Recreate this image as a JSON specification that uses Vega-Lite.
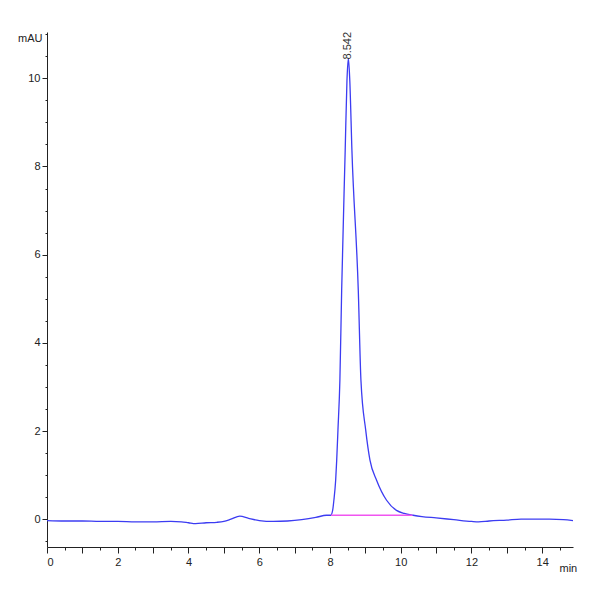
{
  "$schema": "https://vega.github.io/schema/vega-lite/v6.json",
  "width": 526,
  "height": 515,
  "autosize": {"type": "none"},
  "padding": {"left": 47, "top": 32, "right": 27, "bottom": 53},
  "background": "white",
  "config": {
    "view": {"stroke": null},
    "font": "Liberation Sans",
    "axis": {"labelFont": "Liberation Sans", "titleFont": "Liberation Sans", "grid": false, "labelColor": "#222", "titleColor": "#222", "domainColor": "#222", "tickColor": "#222", "labelOverlap": false}
  },
  "datasets": {
    "trace": [
      {"t": 0.0, "mAU": -0.03}, {"t": 0.5, "mAU": -0.04}, {"t": 1.0, "mAU": -0.04},
      {"t": 1.5, "mAU": -0.05}, {"t": 2.0, "mAU": -0.05}, {"t": 2.5, "mAU": -0.06},
      {"t": 3.0, "mAU": -0.06}, {"t": 3.5, "mAU": -0.05}, {"t": 3.8, "mAU": -0.06},
      {"t": 4.0, "mAU": -0.08}, {"t": 4.2, "mAU": -0.1}, {"t": 4.5, "mAU": -0.08},
      {"t": 4.8, "mAU": -0.07}, {"t": 5.0, "mAU": -0.05}, {"t": 5.2, "mAU": 0.0},
      {"t": 5.45, "mAU": 0.07}, {"t": 5.7, "mAU": 0.02}, {"t": 6.0, "mAU": -0.03},
      {"t": 6.4, "mAU": -0.05}, {"t": 6.8, "mAU": -0.04}, {"t": 7.2, "mAU": -0.01},
      {"t": 7.6, "mAU": 0.04}, {"t": 7.9, "mAU": 0.09}, {"t": 8.02, "mAU": 0.09},
      {"t": 8.075, "mAU": 0.2}, {"t": 8.11, "mAU": 0.43}, {"t": 8.16, "mAU": 0.88},
      {"t": 8.19, "mAU": 1.34}, {"t": 8.225, "mAU": 2.02}, {"t": 8.28, "mAU": 3.15},
      {"t": 8.33, "mAU": 5.19}, {"t": 8.43, "mAU": 8.37}, {"t": 8.48, "mAU": 9.95},
      {"t": 8.52, "mAU": 10.45}, {"t": 8.56, "mAU": 9.95}, {"t": 8.62, "mAU": 8.37},
      {"t": 8.8, "mAU": 5.19}, {"t": 8.875, "mAU": 3.15}, {"t": 9.01, "mAU": 2.02},
      {"t": 9.13, "mAU": 1.34}, {"t": 9.32, "mAU": 0.88}, {"t": 9.6, "mAU": 0.43},
      {"t": 9.88, "mAU": 0.2}, {"t": 10.1, "mAU": 0.13}, {"t": 10.35, "mAU": 0.09},
      {"t": 10.6, "mAU": 0.06}, {"t": 11.0, "mAU": 0.03}, {"t": 11.5, "mAU": -0.01},
      {"t": 12.0, "mAU": -0.05}, {"t": 12.2, "mAU": -0.06}, {"t": 12.5, "mAU": -0.04},
      {"t": 13.0, "mAU": -0.02}, {"t": 13.4, "mAU": 0.0}, {"t": 13.8, "mAU": 0.0},
      {"t": 14.2, "mAU": 0.0}, {"t": 14.6, "mAU": -0.01}, {"t": 14.87, "mAU": -0.03}
    ],
    "baseline": [
      {"t": 8.03, "mAU": 0.09}, {"t": 10.33, "mAU": 0.09}
    ],
    "peak": [
      {"t": 8.52, "mAU": 10.45, "label": "8.542"}
    ]
  },
  "layer": [
    {
      "data": {"name": "trace"},
      "mark": {"type": "line", "color": "#3c3cf2", "strokeWidth": 1.3, "interpolate": "monotone"},
      "encoding": {
        "x": {
          "field": "t", "type": "quantitative",
          "scale": {"domain": [0, 14.87], "nice": false, "zero": false},
          "axis": {
            "orient": "bottom", "tickCount": 200,
            "values": [0, 0.5, 1, 1.5, 2, 2.5, 3, 3.5, 4, 4.5, 5, 5.5, 6, 6.5, 7, 7.5, 8, 8.5, 9, 9.5, 10, 10.5, 11, 11.5, 12, 12.5, 13, 13.5, 14, 14.5],
            "labelExpr": "datum.value % 2 === 0 ? format(datum.value, 'd') : ''",
            "tickSize": {"condition": {"test": "datum.value % 1 === 0", "value": 6}, "value": 3},
            "labelFontSize": 11, "labelPadding": 3, "title": "min", "titleFontSize": 11,
            "titleFontWeight": "normal", "titleAnchor": "start", "titleAlign": "left",
            "titleX": 512, "titleY": 21, "titleBaseline": "middle"
          }
        },
        "y": {
          "field": "mAU", "type": "quantitative",
          "scale": {"domain": [-0.63, 11.05], "nice": false, "zero": false},
          "axis": {
            "orient": "left", "tickCount": 200,
            "values": [-0.5, 0, 0.5, 1, 1.5, 2, 2.5, 3, 3.5, 4, 4.5, 5, 5.5, 6, 6.5, 7, 7.5, 8, 8.5, 9, 9.5, 10, 10.5, 11],
            "labelExpr": "datum.value % 2 === 0 ? format(datum.value, 'd') : ''",
            "tickSize": {"condition": {"test": "datum.value % 2 === 0", "value": 5}, "value": 2},
            "labelFontSize": 11, "labelPadding": 2, "title": "mAU", "titleFontSize": 11,
            "titleFontWeight": "normal", "titleAngle": 0, "titleAlign": "right",
            "titleX": -5, "titleY": 6, "titleBaseline": "middle"
          }
        }
      }
    },
    {
      "data": {"name": "baseline"},
      "mark": {"type": "line", "color": "#f055f0", "strokeWidth": 1.6},
      "encoding": {
        "x": {"field": "t", "type": "quantitative"},
        "y": {"field": "mAU", "type": "quantitative"}
      }
    },
    {
      "data": {"name": "peak"},
      "mark": {"type": "text", "angle": 270, "align": "left", "baseline": "middle", "fontSize": 11, "color": "#333", "dx": -1},
      "encoding": {
        "x": {"field": "t", "type": "quantitative"},
        "y": {"field": "mAU", "type": "quantitative"},
        "text": {"field": "label"}
      }
    }
  ]
}
